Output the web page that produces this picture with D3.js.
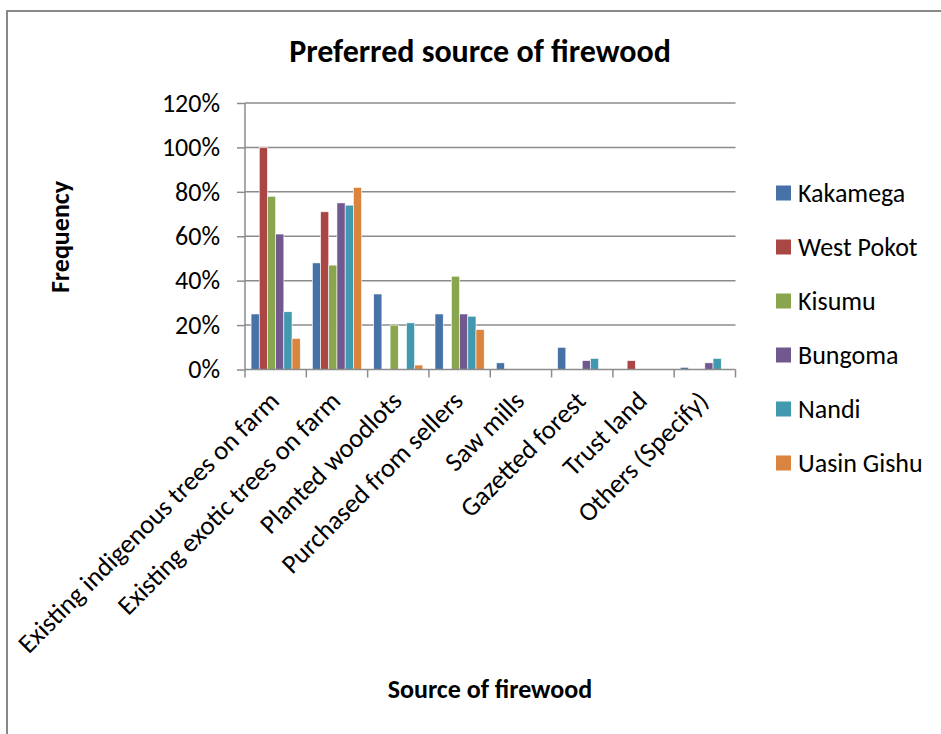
<!DOCTYPE html>
<html>
<head>
<meta charset="utf-8">
<script src="https://cdn.jsdelivr.net/npm/d3@7"></script>
<style>
  body { margin: 0; background: #fff; }
  text { font-family: Carlito, "Open Sans", sans-serif; fill: #000; }
</style>
</head>
<body>
<div class="chart"></div>
<script>
var width = 941;
var height = 734;

var categories = ['Existing indigenous trees on farm', 'Existing exotic trees on farm',
    'Planted woodlots', 'Purchased from sellers', 'Saw mills', 'Gazetted forest',
    'Trust land', 'Others (Specify)'];
var series = ['Kakamega', 'West Pokot', 'Kisumu', 'Bungoma', 'Nandi', 'Uasin Gishu'];

// percent values, one array per county, in category order
var kakamega = [25, 48, 34, 25, 3, 10, 0, 1];
var westPokot = [100, 71, 0, 0, 0, 0, 4, 0];
var kisumu = [78, 47, 20, 42, 0, 0, 0, 0];
var bungoma = [61, 75, 0, 25, 0, 4, 0, 3];
var nandi = [26, 74, 21, 24, 0, 5, 0, 5];
var uasinGishu = [14, 82, 2, 18, 0, 0, 0, 0];
var yTicks = [0, 20, 40, 60, 80, 100, 120];

var values = [kakamega, westPokot, kisumu, bungoma, nandi, uasinGishu];
var colorKey = ['#4672A8', '#AA4643', '#89A54E', '#71588F', '#4198AF', '#DB843D'];

var plotLeft = 245, plotRight = 735.5, plotTop = 103, plotBottom = 369.5;

var x0 = d3.scaleBand().domain(categories).range([plotLeft, plotRight]);
var x1 = d3.scaleBand().domain(series).range([0, x0.bandwidth()]).paddingOuter(0.74);
var y = d3.scaleLinear().domain([0, 120]).range([plotBottom, plotTop]);

var svg = d3.select(".chart")
    .append("svg")
    .attr("width", width)
    .attr("height", height);

// outer frame (runs off right and bottom)
svg.append("rect")
    .attr("x", 7)
    .attr("y", 11)
    .attr("width", 960)
    .attr("height", 760)
    .attr("fill", "white")
    .attr("stroke", "#888")
    .attr("stroke-width", 2);

// gridlines
svg.append("g")
    .selectAll("line")
    .data(yTicks.slice(1))
    .enter().append("line")
    .attr("x1", plotLeft)
    .attr("x2", plotRight)
    .attr("y1", function(d) { return y(d); })
    .attr("y2", function(d) { return y(d); })
    .attr("stroke", "#8c8c8c")
    .attr("stroke-width", 1.5);

// bars
var groups = svg.append("g")
    .selectAll("g")
    .data(series)
    .enter().append("g")
    .attr("fill", function(d, i) { return colorKey[i]; });

groups.selectAll("rect")
    .data(function(s, i) {
        return values[i].map(function(v, j) {
            return { cat: categories[j], series: s, value: v };
        }).filter(function(d) { return d.value > 0; });
    })
    .enter().append("rect")
    .attr("x", function(d) { return x0(d.cat) + x1(d.series); })
    .attr("y", function(d) { return y(d.value); })
    .attr("width", x1.bandwidth())
    .attr("height", function(d) { return plotBottom - y(d.value); })
    .attr("stroke", "white")
    .attr("stroke-width", 0.6);

// y axis
var yAxis = d3.axisLeft(y)
    .tickValues(yTicks)
    .tickFormat(function(d) { return d + "%"; })
    .tickSize(8)
    .tickPadding(17);

var yg = svg.append("g")
    .attr("transform", "translate(" + plotLeft + ",0)")
    .call(yAxis);
yg.select(".domain").attr("stroke", "#8c8c8c").attr("stroke-width", 1.5)
    .attr("d", "M0," + plotTop + "V" + plotBottom);
yg.selectAll(".tick line").attr("stroke", "#8c8c8c").attr("stroke-width", 1.5);
yg.selectAll("text")
    .style("font-size", "26px")
    .style("font-family", 'Carlito, "Open Sans", sans-serif');

// x axis
var xTickPos = categories.map(function(c) { return x0(c); }).concat([plotRight]);
var xg = svg.append("g").attr("class", "x axis");
xg.append("line")
    .attr("x1", plotLeft).attr("x2", plotRight)
    .attr("y1", plotBottom).attr("y2", plotBottom)
    .attr("stroke", "#8c8c8c").attr("stroke-width", 1.5);
xg.selectAll(".xtick")
    .data(xTickPos)
    .enter().append("line")
    .attr("x1", function(d) { return d; })
    .attr("x2", function(d) { return d; })
    .attr("y1", plotBottom)
    .attr("y2", plotBottom + 8)
    .attr("stroke", "#8c8c8c").attr("stroke-width", 1.5);
xg.selectAll(".xlabel")
    .data(categories)
    .enter().append("text")
    .attr("transform", function(d) {
        return "translate(" + (x0(d) + x0.bandwidth() / 2 + 5) + "," + (plotBottom + 33) + ") rotate(-45)";
    })
    .attr("text-anchor", "end")
    .style("font-size", "26.5px")
    .text(function(d) { return d; });

// titles
svg.append("text")
    .attr("x", 480)
    .attr("y", 62)
    .attr("text-anchor", "middle")
    .style("font-size", "32px")
    .style("font-weight", "bold")
    .text("Preferred source of firewood");

svg.append("text")
    .attr("x", 490)
    .attr("y", 698)
    .attr("text-anchor", "middle")
    .style("font-size", "26px")
    .style("font-weight", "bold")
    .text("Source of firewood");

svg.append("text")
    .attr("transform", "translate(69,237) rotate(-90)")
    .attr("text-anchor", "middle")
    .style("font-size", "26px")
    .style("font-weight", "bold")
    .text("Frequency");

// legend
var legend = svg.append("g")
    .selectAll("g")
    .data(series)
    .enter().append("g")
    .attr("transform", function(d, i) { return "translate(776," + (193 + i * 54) + ")"; });

legend.append("rect")
    .attr("x", 0)
    .attr("y", -7.5)
    .attr("width", 15)
    .attr("height", 15)
    .attr("fill", function(d, i) { return colorKey[i]; });

legend.append("text")
    .attr("x", 22)
    .attr("y", 9)
    .style("font-size", "26px")
    .text(function(d) { return d; });
</script>
</body>
</html>
